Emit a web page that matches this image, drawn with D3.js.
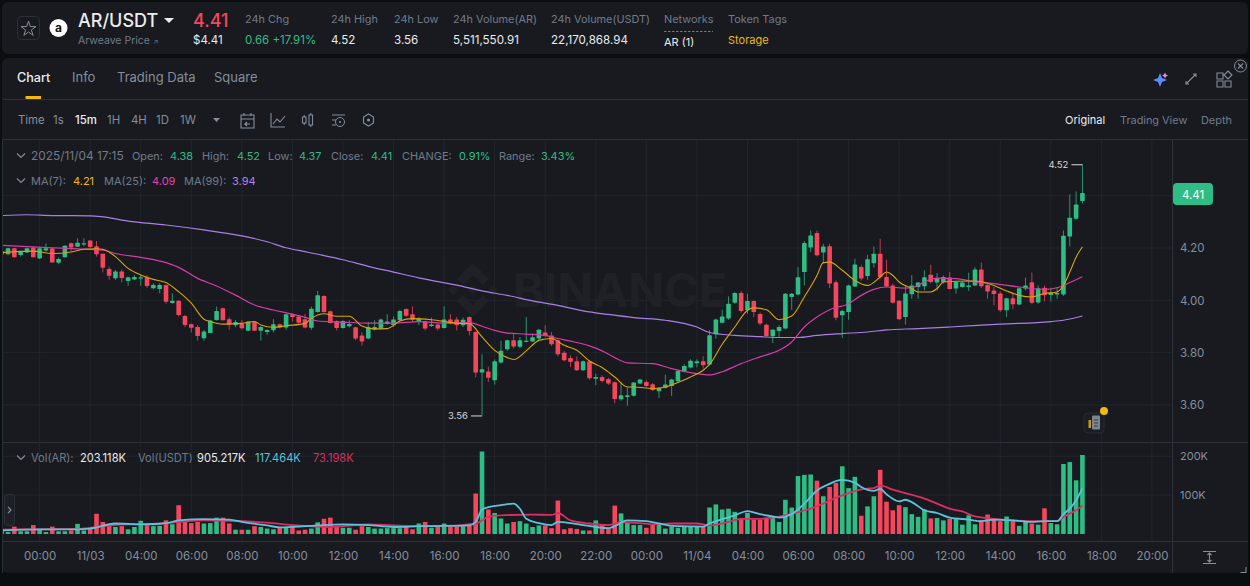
<!DOCTYPE html>
<html><head><meta charset="utf-8"><title>AR/USDT</title>
<script src="https://cdnjs.cloudflare.com/ajax/libs/d3/7.8.5/d3.min.js"></script>
<style>html,body{margin:0;padding:0;background:#0b0e11;overflow:hidden}svg{display:block}text{font-family:Inter,"Noto Sans",sans-serif}</style>
</head><body><div id="c"></div>
<script>
const opens=[4.188,4.176,4.199,4.173,4.183,4.202,4.160,4.190,4.199,4.144,
4.165,4.218,4.205,4.213,4.229,4.207,4.178,4.120,4.084,4.110,
4.074,4.080,4.083,4.088,4.046,4.043,4.059,3.990,3.998,3.940,
3.909,3.898,3.855,3.875,3.925,3.970,3.928,3.905,3.910,3.884,
3.917,3.884,3.879,3.886,3.909,3.896,3.947,3.938,3.928,3.895,
3.955,4.017,3.958,3.921,3.894,3.901,3.897,3.866,3.854,3.888,
3.892,3.910,3.905,3.924,3.967,3.947,3.921,3.920,3.902,3.908,
3.894,3.927,3.927,3.905,3.936,3.879,3.724,3.728,3.695,3.762,
3.813,3.847,3.823,3.841,3.843,3.854,3.877,3.866,3.847,3.800,
3.780,3.767,3.733,3.767,3.700,3.707,3.699,3.687,3.622,3.631,
3.635,3.682,3.688,3.679,3.653,3.666,3.673,3.691,3.727,3.743,
3.760,3.767,3.755,3.870,3.914,3.931,3.991,4.028,3.962,3.997,
3.948,3.907,3.863,3.883,3.892,4.013,4.022,4.108,4.202,4.257,
4.183,4.207,4.069,3.943,3.955,4.053,4.127,4.093,4.142,4.178,
4.089,4.057,3.998,3.936,4.023,4.051,4.054,4.098,4.068,4.070,
4.087,4.045,4.051,4.051,4.057,4.118,4.059,4.038,4.026,3.962,
4.008,3.984,4.045,4.069,3.992,4.048,4.020,4.022,4.022,4.244,
4.312,4.38];
const closes=[4.176,4.199,4.165,4.186,4.199,4.165,4.199,4.199,4.145,4.158,
4.209,4.202,4.220,4.218,4.204,4.176,4.125,4.094,4.110,4.085,
4.088,4.089,4.088,4.055,4.059,4.059,3.995,3.998,3.944,3.906,
3.895,3.864,3.881,3.923,3.959,3.924,3.907,3.917,3.893,3.919,
3.884,3.898,3.887,3.909,3.896,3.947,3.936,3.914,3.896,3.968,
4.019,3.955,3.913,3.894,3.921,3.910,3.854,3.843,3.898,3.898,
3.927,3.919,3.927,3.959,3.941,3.926,3.930,3.892,3.908,3.892,
3.927,3.913,3.905,3.926,3.883,3.724,3.737,3.704,3.767,3.807,
3.847,3.824,3.847,3.846,3.859,3.888,3.864,3.832,3.794,3.771,
3.765,3.733,3.767,3.702,3.707,3.692,3.682,3.623,3.637,3.637,
3.686,3.697,3.673,3.657,3.666,3.678,3.697,3.730,3.749,3.769,
3.767,3.752,3.867,3.927,3.938,3.987,4.028,3.959,3.997,3.955,
3.911,3.864,3.888,3.898,4.025,4.025,4.088,4.219,4.248,4.172,
4.206,4.064,3.933,3.959,4.057,4.137,4.083,4.157,4.178,4.089,
4.053,3.991,3.928,4.026,4.057,4.068,4.088,4.070,4.085,4.089,
4.043,4.070,4.068,4.057,4.118,4.054,4.034,4.024,3.962,4.008,
3.985,4.046,4.057,3.991,4.046,4.019,4.028,4.028,4.247,4.316,
4.366,4.41];
const highs=[4.192,4.201,4.201,4.188,4.201,4.205,4.205,4.218,4.201,4.164,
4.211,4.220,4.237,4.237,4.230,4.227,4.179,4.129,4.116,4.118,
4.090,4.097,4.097,4.097,4.065,4.065,4.061,4.027,4.000,3.944,
3.911,3.906,3.887,3.925,3.976,3.972,3.935,3.925,3.925,3.921,
3.920,3.901,3.889,3.928,3.911,3.949,3.949,3.940,3.948,3.976,
4.036,4.019,3.961,3.924,3.924,3.924,3.899,3.879,3.917,3.924,
3.930,3.947,3.939,3.964,3.969,3.977,3.936,3.922,3.934,3.913,
3.977,3.947,3.936,3.934,3.939,3.882,3.794,3.746,3.774,3.845,
3.850,3.873,3.860,3.936,3.873,3.891,3.905,3.879,3.850,3.807,
3.790,3.786,3.770,3.770,3.720,3.714,3.704,3.690,3.688,3.667,
3.688,3.700,3.695,3.685,3.668,3.716,3.700,3.735,3.756,3.775,
3.775,3.786,3.886,3.930,3.964,4.015,4.031,4.036,4.025,4.000,
3.953,3.911,3.891,3.905,4.028,4.028,4.127,4.226,4.267,4.267,
4.216,4.216,4.076,3.964,4.060,4.159,4.136,4.174,4.206,4.235,
4.155,4.064,4.000,4.057,4.096,4.070,4.115,4.136,4.104,4.095,
4.108,4.073,4.073,4.106,4.127,4.144,4.061,4.051,4.034,4.010,
4.026,4.048,4.087,4.106,4.057,4.057,4.048,4.051,4.267,4.405,
4.416,4.52];
const lows=[4.173,4.173,4.164,4.167,4.181,4.164,4.158,4.186,4.144,4.138,
4.164,4.188,4.204,4.207,4.200,4.167,4.107,4.078,4.078,4.068,
4.056,4.078,4.056,4.048,4.042,4.027,3.987,3.987,3.938,3.897,
3.877,3.846,3.846,3.874,3.923,3.923,3.887,3.897,3.889,3.883,
3.883,3.846,3.868,3.877,3.893,3.887,3.919,3.911,3.893,3.887,
3.953,3.953,3.911,3.885,3.892,3.896,3.847,3.826,3.851,3.885,
3.889,3.907,3.898,3.921,3.936,3.917,3.905,3.885,3.898,3.885,
3.892,3.908,3.885,3.898,3.866,3.706,3.56,3.688,3.678,3.758,
3.807,3.816,3.816,3.840,3.841,3.847,3.860,3.826,3.786,3.767,
3.746,3.730,3.730,3.697,3.676,3.686,3.677,3.606,3.616,3.597,
3.632,3.679,3.669,3.653,3.627,3.663,3.635,3.688,3.724,3.739,
3.744,3.739,3.751,3.854,3.911,3.926,3.987,3.953,3.949,3.936,
3.905,3.860,3.837,3.858,3.889,3.964,4.019,4.057,4.184,4.168,
4.140,4.047,3.924,3.856,3.926,4.051,4.076,4.079,4.125,4.083,
4.051,3.987,3.924,3.907,4.006,4.006,4.038,4.064,4.038,4.064,
4.041,4.026,4.048,4.036,4.054,4.048,4.006,3.981,3.956,3.936,
3.966,3.981,4.038,3.985,3.987,3.996,3.996,4.006,4.017,4.206,
4.308,4.37];
const volumes=[11,5,19,7,7,23,11,5,19,7,
7,9,26,9,16,52,31,23,18,20,
12,18,34,23,20,21,35,25,74,31,
28,31,27,28,42,42,27,11,11,11,
20,18,14,12,16,16,21,9,11,14,
30,39,42,20,16,16,11,20,18,14,
14,15,15,15,18,12,27,31,16,18,
27,21,20,20,21,104,212,63,54,40,
27,31,33,27,18,22,22,15,86,12,
15,13,9,9,35,24,14,73,53,31,
23,23,16,25,24,14,19,16,20,18,
19,18,68,76,63,65,57,41,54,37,
37,42,42,31,88,68,149,152,153,137,
97,121,131,174,118,147,47,71,97,165,
83,61,74,69,51,44,63,40,41,35,
39,39,24,48,25,35,50,37,33,45,
35,21,31,27,24,66,28,25,180,185,
138,203.118];
const ma7Idx=[0,5,8,11,13,15,16,18,20,22,24,26,28,30,32,33,35,38,40,41,43,45,48,49,50,51,53,55,57,59,61,63,65,68,72,74,76,78,80,81,83,85,87,89,91,93,95,97,99,100,103,105,107,109,111,112,114,116,118,119,121,123,125,127,129,130,131,133,135,137,139,140,141,142,144,145,147,148,149,151,154,157,159,161,163,165,167,168,169,170,171];
const ma7Val=[4.183,4.188,4.179,4.185,4.195,4.197,4.195,4.167,4.122,4.097,4.080,4.068,4.033,3.989,3.928,3.919,3.909,3.912,3.919,3.906,3.897,3.903,3.912,3.931,3.944,3.949,3.939,3.939,3.902,3.891,3.892,3.921,3.930,3.926,3.913,3.911,3.860,3.809,3.781,3.774,3.807,3.847,3.854,3.828,3.809,3.768,3.743,3.707,3.669,3.669,3.663,3.669,3.686,3.707,3.733,3.755,3.832,3.898,3.962,3.971,3.964,3.926,3.940,4.013,4.095,4.144,4.146,4.115,4.076,4.057,4.089,4.108,4.095,4.070,4.045,4.032,4.032,4.045,4.070,4.073,4.074,4.057,4.036,4.019,4.013,4.026,4.032,4.057,4.108,4.165,4.205];
const ma25Idx=[0,4,8,12,16,18,22,26,28,31,34,37,40,43,46,48,50,54,58,62,66,70,74,76,78,80,83,86,88,90,93,95,97,99,103,106,109,112,114,117,120,123,125,127,129,131,134,136,138,140,143,144,146,148,151,154,157,161,165,167,169,171];
const ma25Val=[4.210,4.205,4.201,4.197,4.192,4.179,4.164,4.144,4.126,4.084,4.055,4.020,3.982,3.963,3.947,3.935,3.921,3.917,3.913,3.913,3.919,3.913,3.915,3.901,3.885,3.875,3.871,3.866,3.854,3.844,3.826,3.807,3.781,3.761,3.758,3.739,3.724,3.715,3.727,3.758,3.784,3.809,3.841,3.898,3.936,3.964,3.987,4.019,4.042,4.051,4.047,4.048,4.070,4.085,4.083,4.070,4.064,4.051,4.042,4.048,4.068,4.09];
const ma99Idx=[0,4,8,14,16,20,26,32,38,42,45,48,50,54,58,62,66,68,72,76,80,84,88,92,96,100,105,110,112,116,120,123,126,129,133,137,140,145,150,158,166,168,171];
const ma99Val=[4.324,4.327,4.324,4.323,4.319,4.303,4.288,4.269,4.246,4.224,4.201,4.186,4.176,4.155,4.130,4.108,4.086,4.076,4.058,4.036,4.019,3.998,3.981,3.960,3.946,3.934,3.924,3.898,3.877,3.866,3.861,3.858,3.858,3.866,3.873,3.879,3.887,3.892,3.898,3.909,3.919,3.924,3.94];
const volMaAIdx=[0,6,12,14,18,22,26,28,32,36,38,42,44,48,50,54,58,62,66,74,75,76,77,79,81,82,83,85,87,88,90,92,94,96,97,99,102,104,106,111,112,114,116,118,120,122,123,125,127,129,131,132,133,135,136,138,139,140,142,143,144,146,148,150,153,155,157,160,163,165,167,168,169,170,171];
const volMaAVal=[9,12,12,14,27,25,28,35,38,37,31,22,17,20,22,25,23,18,20,22,31,63,69,74,78,65,39,28,23,31,28,23,18,15,20,35,33,27,21,19,27,38,48,59,51,45,42,51,78,112,129,136,139,132,121,111,116,102,84,88,82,61,54,42,37,33,37,35,31,33,33,51,65,87,117.464];
const volMaBIdx=[0,6,12,16,20,24,28,32,36,42,46,52,58,62,66,70,75,77,79,84,87,88,90,93,96,98,101,103,106,110,112,115,117,120,122,125,128,130,132,134,136,138,139,141,143,146,148,150,152,154,157,160,165,167,168,170,171];
const volMaBVal=[11,12,13,20,25,25,31,35,34,29,23,18,25,22,20,20,27,44,48,50,49,54,35,27,23,30,28,25,27,27,22,31,39,39,42,52,65,78,93,105,115,118,125,114,105,91,78,65,58,45,39,35,33,33,44,61,73.198];
const xTickIdx=[6,14,22,30,38,46,54,62,70,78,86,94,102,110,118,126,134,142,150,158,166,174,182];
const xTickLabels=["00:00","11/03","04:00","06:00","08:00","10:00","12:00","14:00","16:00","18:00","20:00","22:00","00:00","11/04","04:00","06:00","08:00","10:00","12:00","14:00","16:00","18:00","20:00"];
const priceTicks=[3.6,3.8,4.0,4.2,4.4];
const volTicks=[100,200];

const GREEN="#2EBD85",RED="#F6465D",GREY="#848E9C",DIM="#707A8A",LIGHT="#EAECEF",PANEL="#181A20",GRID="#21252C",LINE="#2B3139";
const W=1250,H=586;
const svg=d3.select("#c").append("svg").attr("width",W).attr("height",H);
const T=(x,y,s,size,fill,o={})=>svg.append("text").attr("x",x).attr("y",y).text(s).attr("font-size",size).attr("fill",fill).attr("font-weight",o.w||400).attr("text-anchor",o.a||"start");

// panels
svg.append("rect").attr("x",2).attr("y",2).attr("width",1246).attr("height",52).attr("rx",6).attr("fill",PANEL);
svg.append("rect").attr("x",2).attr("y",58).attr("width",1246).attr("height",515).attr("rx",6).attr("fill",PANEL);

// scales
const x=d3.scaleLinear().domain([0,171]).range([1.7,1082.42]);
const y=d3.scaleLinear().domain([3.6,4.2]).range([405,248]);
const yv=d3.scaleLinear().domain([0,200]).range([534,456.2]);
const left=3,right=1172;

// frame lines
const hl=(y0,x1,x2,c,w)=>svg.append("line").attr("x1",x1).attr("x2",x2).attr("y1",y0).attr("y2",y0).attr("stroke",c).attr("stroke-width",w||1);
hl(99.5,2,1248,LINE);hl(139.5,2,1248,LINE);hl(442.5,2,1248,LINE);hl(541.5,2,1248,LINE);
svg.append("line").attr("x1",2.5).attr("x2",2.5).attr("y1",140).attr("y2",573).attr("stroke",LINE);
svg.append("line").attr("x1",1172.5).attr("x2",1172.5).attr("y1",140).attr("y2",573).attr("stroke",LINE);

// grid + axes
const gridG=svg.append("g");
gridG.selectAll("line.v").data(xTickIdx).join("line").attr("class","v").attr("x1",d=>x(d)).attr("x2",d=>x(d)).attr("y1",140).attr("y2",541).attr("stroke",GRID);
gridG.selectAll("line.p").data(priceTicks).join("line").attr("class","p").attr("x1",left).attr("x2",right).attr("y1",d=>y(d)).attr("y2",d=>y(d)).attr("stroke",GRID);
gridG.selectAll("line.q").data(volTicks).join("line").attr("class","q").attr("x1",left).attr("x2",right).attr("y1",d=>yv(d)).attr("y2",d=>yv(d)).attr("stroke",GRID);

function styleAxis(g,size){g.select(".domain").remove();g.selectAll(".tick line").remove();g.selectAll("text").attr("fill",GREY).attr("font-size",size).attr("font-family","Inter");}
svg.append("g").attr("transform","translate(0,544)").call(d3.axisBottom(x).tickValues(xTickIdx).tickFormat((d,i)=>xTickLabels[i]).tickSize(0).tickPadding(8)).call(styleAxis,11.5);
svg.append("g").attr("transform","translate(1180,0)").call(d3.axisRight(y).tickValues(priceTicks.slice(0,4)).tickFormat(d3.format(".2f")).tickSize(0).tickPadding(0)).call(styleAxis,11.5);
svg.append("g").attr("transform","translate(1180,0)").call(d3.axisRight(yv).tickValues(volTicks).tickFormat(d=>d+"K").tickSize(0).tickPadding(0)).call(styleAxis,11);

// watermark
const wm=svg.append("g").attr("fill","#1F2127");
wm.append("path").attr("transform","translate(473,290)").attr("d","M0 -27L16 -11L10 -5L0 -15L-10 -5L-16 -11ZM0 27L16 11L10 5L0 15L-10 5L-16 11ZM0 -5L5 0L0 5L-5 0ZM-20 -5L-15 0L-20 5L-25 0ZM20 -5L25 0L20 5L15 0Z");
wm.append("text").attr("x",513).attr("y",307).text("BINANCE").attr("font-size",47).attr("font-weight",700);

// candles
const chart=svg.append("g");
svg.append("clipPath").attr("id","cl").append("rect").attr("x",3).attr("y",140).attr("width",1169).attr("height",402);
chart.attr("clip-path","url(#cl)");
const idx=d3.range(closes.length);
const col=i=>closes[i]>=opens[i]?GREEN:RED;
chart.selectAll("rect.vol").data(idx).join("rect").attr("class","vol").attr("x",i=>x(i)-2.3).attr("width",4.6).attr("y",i=>yv(volumes[i])).attr("height",i=>yv(0)-yv(volumes[i])).attr("fill",col);
chart.selectAll("line.wick").data(idx).join("line").attr("class","wick").attr("x1",i=>x(i)).attr("x2",i=>x(i)).attr("y1",i=>y(highs[i])).attr("y2",i=>y(lows[i])).attr("stroke",col).attr("stroke-width",1).attr("stroke-opacity",.75);
chart.selectAll("rect.body").data(idx).join("rect").attr("class","body").attr("x",i=>x(i)-2.3).attr("width",4.6).attr("y",i=>y(Math.max(opens[i],closes[i]))).attr("height",i=>Math.max(1,Math.abs(y(opens[i])-y(closes[i])))).attr("rx",.6).attr("fill",col);

// MA lines
const ln=(sy)=>d3.line().x(d=>x(d[0])).y(d=>sy(d[1])).curve(d3.curveMonotoneX);
const drawLine=(ix,v,sy,c,w)=>chart.append("path").attr("d",ln(sy)(ix.map((d,k)=>[d,v[k]]))).attr("fill","none").attr("stroke",c).attr("stroke-width",w);
drawLine(ma99Idx,ma99Val,y,"#A97FE6",1.2);
drawLine(ma25Idx,ma25Val,y,"#D53CA8",1.2);
drawLine(ma7Idx,ma7Val,y,"#D9A40A",1.1);
drawLine(volMaBIdx,volMaBVal,yv,"#D92F63",1.8);
drawLine(volMaAIdx,volMaAVal,yv,"#5BC4DC",1.8);

// hi/lo markers
const hiI=highs.indexOf(d3.max(highs)),loI=lows.indexOf(d3.min(lows));
hl(y(highs[hiI])+.5,x(hiI)-11,x(hiI),"#D5D8DC");
hl(y(lows[loI])+.5,x(loI)-11,x(loI),"#D5D8DC");
T(x(hiI)-14,y(highs[hiI])+3.5,d3.format(".2f")(highs[hiI]),9.5,"#D5D8DC",{a:"end"});
T(x(loI)-14,y(lows[loI])+3.5,d3.format(".2f")(lows[loI]),9.5,"#D5D8DC",{a:"end"});

// price tag
svg.append("rect").attr("x",1173).attr("y",183).attr("width",40).attr("height",22).attr("rx",4).attr("fill",GREEN);
T(1193,198.5,"4.41",11.5,"#fff",{a:"middle",w:400});

// header
svg.append("rect").attr("x",17.5).attr("y",16.5).attr("width",22).attr("height",23).attr("rx",4).attr("fill","none").attr("stroke","#2B3139");
svg.append("path").attr("d",d3.symbol(d3.symbolStar,70)()).attr("transform","translate(28.5,29)").attr("fill","none").attr("stroke",GREY).attr("stroke-width",1);
svg.append("circle").attr("cx",58.5).attr("cy",28).attr("r",9).attr("fill","#fff");
T(58.5,32,"a",12,"#111",{a:"middle",w:700});
T(78,27,"AR/USDT",18,LIGHT,{w:500});
svg.append("path").attr("d","M164 18h10l-5 5z").attr("fill",LIGHT);
T(78,44,"Arweave Price",10.5,DIM);
T(153,44,"↗",7,DIM);
T(193,27,"4.41",18,RED,{w:500});
T(193,44,"$4.41",11.5,LIGHT);
const hdrL=[["24h Chg",245],["24h High",331],["24h Low",394],["24h Volume(AR)",453],["24h Volume(USDT)",551],["Networks",664],["Token Tags",728]];
hdrL.forEach(d=>T(d[1],23,d[0],10.9,DIM));
T(245,44,"0.66 +17.91%",11.5,GREEN);
[["4.52",331],["3.56",394],["5,511,550.91",453],["22,170,868.94",551]].forEach(d=>T(d[1],44,d[0],11.6,LIGHT));
T(664,46,"AR (1)",11,LIGHT);
T(728,44,"Storage",11,"#F0B90B");
svg.append("line").attr("x1",664).attr("x2",713).attr("y1",31.5).attr("y2",31.5).attr("stroke",DIM).attr("stroke-dasharray","2.5 1.5");

// tabs
[["Chart",17,LIGHT,500,12.6],["Info",72,GREY,400,13],["Trading Data",117,GREY,400,13],["Square",214,GREY,400,13]].forEach(d=>T(d[1],82,d[0],d[4],d[2],{w:d[3]}));
svg.append("rect").attr("x",25.5).attr("y",96).attr("width",15.5).attr("height",3).attr("fill","#F0B90B");

// toolbar
[["Time",18,GREY,400],["1s",53,GREY,400],["15m",75,LIGHT,500],["1H",107,GREY,400],["4H",131,GREY,400],["1D",156,GREY,400],["1W",180,GREY,400]].forEach(d=>T(d[1],124,d[0],11.4,d[2],{w:d[3]}));
svg.append("path").attr("d","M213 118h7l-3.5 4z").attr("fill",GREY);
const ic=(d)=>svg.append("path").attr("d",d).attr("fill","none").attr("stroke",GREY).attr("stroke-width",1.1);
ic("M241 115h13v13h-13zM241 119h13M244 113v3M251 113v3M250 124h-5l2-2m-2 2l2 2");
ic("M271 113v14h14M273 124l4-5 3 3 5-6");
ic("M302.5 117h3.5v6h-3.5zM304.2 115v2M304.2 123v2M309 115h3.5v10h-3.5zM310.8 113v2M310.8 125v2");
ic("M332 115h13M332 120h4M332 125h4");
svg.append("circle").attr("cx",340).attr("cy",122).attr("r",4.5).attr("fill","none").attr("stroke",GREY);
svg.append("circle").attr("cx",340).attr("cy",122).attr("r",1).attr("fill",GREY);
ic("M368.5 114l5 3v6l-5 3-5-3v-6z");
svg.append("circle").attr("cx",368.5).attr("cy",120).attr("r",1.6).attr("fill",GREY);
T(1065,124,"Original",11,LIGHT,{w:400});
T(1120,124,"Trading View",10.9,DIM);
T(1201,124,"Depth",10.9,DIM);

// top-right icons
svg.append("path").attr("d","M1160 73l2 5 5 2-5 2-2 5-2-5-5-2 5-2z").attr("fill","#5D8BFF");
svg.append("path").attr("d","M1165 72.5l1 2 2 1-2 1-1 2-1-2-2-1 2-1z").attr("fill","#E58BD8");
ic("M1186 84l10-10M1193 74h3v3M1186 81v3h3");
ic("M1217 73h6v6h-6zM1217 81h6v6h-6zM1225 81h6v6h-6zM1228 71l4 4-4 4-4-4z");
svg.append("circle").attr("cx",1240.5).attr("cy",66).attr("r",6).attr("fill","#181A20").attr("stroke",GREY);
ic("M1238 63.5l5 5M1243 63.5l-5 5");

// legends
const ch=(cx,cy)=>ic(`M${cx-4} ${cy-2}l4 4 4-4`);
ch(21,155.5);ch(21,180.5);ch(21,457.5);
T(31,160,"2025/11/04 17:15",11.9,DIM);
[["Open:",132,DIM],["4.38",170,GREEN],["High:",202,DIM],["4.52",237,GREEN],["Low:",268,DIM],["4.37",299,GREEN],["Close:",331,DIM],["4.41",371,GREEN],["CHANGE:",402,DIM],["0.91%",459,GREEN],["Range:",499,DIM],["3.43%",541,GREEN]].forEach(d=>T(d[1],160,d[0],10.9,d[2]));
[["MA(7):",31,DIM],["4.21",73,"#F0B90B"],["MA(25):",104,DIM],["4.09",152,"#E040B0"],["MA(99):",184,DIM],["3.94",232,"#B085E8"]].forEach(d=>T(d[1],185,d[0],11,d[2]));
[["Vol(AR):",31,DIM],["203.118K",80,LIGHT],["Vol(USDT)",138,DIM],["905.217K",197,LIGHT],["117.464K",255,"#5BC4DC"],["73.198K",313,"#D92F63"]].forEach(d=>T(d[1],462,d[0],11.1,d[2]));

// side handle, note icon, bottom icons
svg.append("rect").attr("x",4.5).attr("y",494.5).attr("width",10).attr("height",31).attr("rx",3).attr("fill","#1E2026").attr("stroke","#2B3139");
ic("M8 507l3 3-3 3");
svg.append("rect").attr("x",1084).attr("y",413).attr("width",20).attr("height",20).attr("rx",4).attr("fill","#1A1D23").attr("stroke","#262A31");
svg.append("rect").attr("x",1092).attr("y",415.5).attr("width",8).attr("height",14).attr("rx",1).attr("fill","#7C8490");
svg.append("rect").attr("x",1088.5).attr("y",420).attr("width",2.5).attr("height",8).attr("fill","#C99A10");
svg.append("path").attr("d","M1094 420h4M1094 423h4M1094 426h4").attr("stroke","#3A3F46").attr("fill","none");
svg.append("circle").attr("cx",1104).attr("cy",411).attr("r",4).attr("fill","#F0B90B");
ic("M1203 551.5h13M1203 563.5h13M1209.5 553v9M1207.5 555l2-2 2 2M1207.5 560l2 2 2-2");
ic("M1240.5 572.5h5.5v-5.5");
</script></body></html>
